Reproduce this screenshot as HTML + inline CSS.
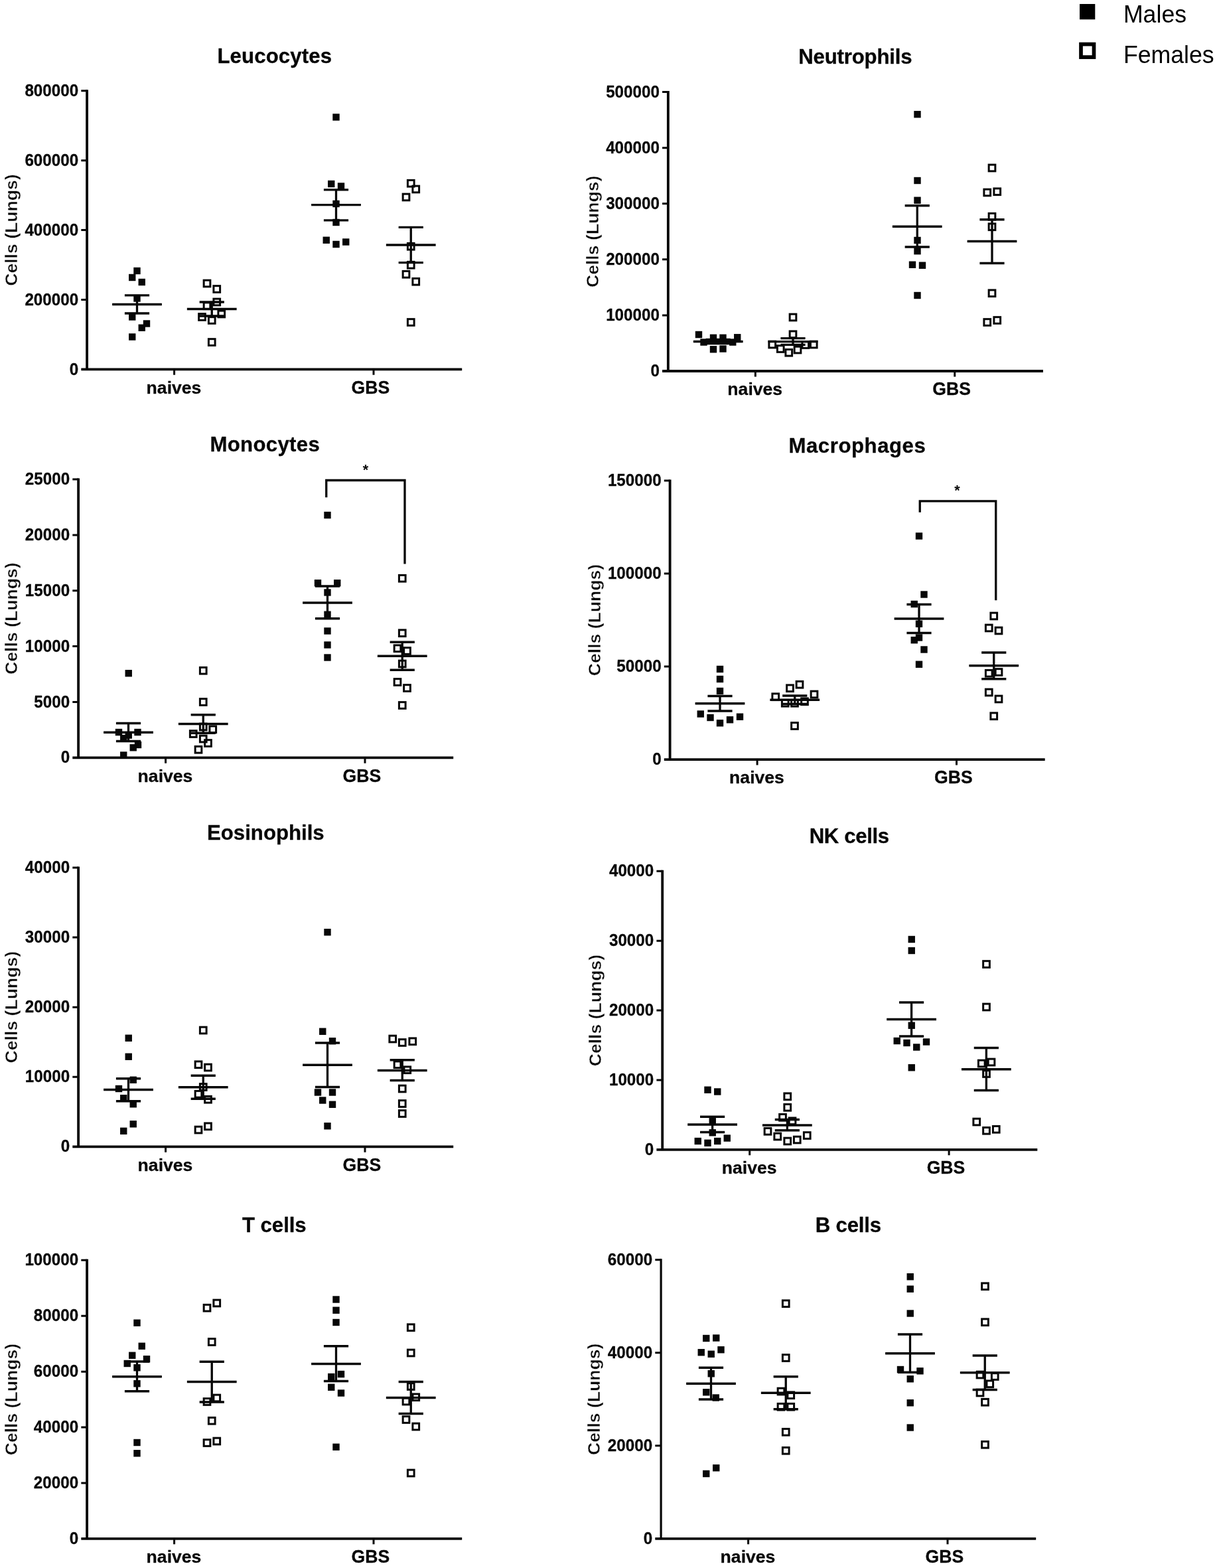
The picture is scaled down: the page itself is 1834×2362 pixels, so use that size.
<!DOCTYPE html>
<html lang="en">
<head>
<meta charset="utf-8">
<title>Lung cell populations in naive and GBS-infected males and females</title>
<style>
html,body{margin:0;padding:0;background:#fff;}
body{width:1834px;height:2362px;}
svg{display:block;}
text{font-family:"Liberation Sans",sans-serif;fill:#070707;}
.b{font-weight:700;}
.tk,.gp,.tt{stroke:#070707;stroke-width:0.3px;stroke-linejoin:round;}
.tk{font-size:24.2px;text-anchor:end;}
.gp{font-size:26.6px;text-anchor:middle;}
.tt{font-size:31.2px;text-anchor:middle;}
.yl{font-size:26.6px;text-anchor:middle;stroke:#fff;stroke-width:0.45px;}
.st{font-size:21.5px;text-anchor:middle;font-weight:700;}
.lg{font-size:35.7px;fill:#000;}
.ln{stroke:#070707;stroke-width:3.85;fill:none;}
.tkm{stroke-width:3;}
.dl{stroke-width:3.3;}
.sf{fill:#070707;}
.so{fill:none;stroke:#070707;stroke-width:3;}
</style>
</head>
<body>
<svg width="1834" height="2362" viewBox="0 0 1834 2362" role="img" aria-label="Lung cell counts in naive and GBS-infected male and female mice">
<rect width="1834" height="2362" fill="#fff"/>
<g id="legend">
<rect x="1627" y="6" width="23.3" height="23.3" fill="#000"/>
<text class="lg" transform="translate(1692.9 34) scale(1 1.03)">Males</text>
<rect x="1629" y="66.6" width="19.5" height="19.5" fill="none" stroke="#000" stroke-width="5.7"/>
<text class="lg" transform="translate(1692.9 94.5) scale(1 1.03)">Females</text>
</g>
<g id="panel1">
<text class="tt b" x="413.81" y="94.6" letter-spacing="0.11">Leucocytes</text>
<text class="yl b" transform="translate(26.4 346.6) rotate(-90)">Cells (Lungs)</text>
<path class="ln" d="M131.1 135.3V556.4"/>
<path class="ln" d="M122.3 556.4H696.2"/>
<path class="ln tkm" d="M122.3 136.8H131.1M122.3 241.7H131.1M122.3 346.6H131.1M122.3 451.5H131.1M262.6 556.4V564.8M563 556.4V564.8"/>
<text class="tk b" transform="translate(118.1 144.9) scale(1 1.06)">800000</text>
<text class="tk b" transform="translate(118.1 249.8) scale(1 1.06)">600000</text>
<text class="tk b" transform="translate(118.1 354.7) scale(1 1.06)">400000</text>
<text class="tk b" transform="translate(118.1 459.6) scale(1 1.06)">200000</text>
<text class="tk b" transform="translate(118.1 564.5) scale(1 1.06)">0</text>
<text class="gp b" transform="translate(262 592.7) scale(1 0.98)">naives</text>
<text class="gp b" transform="translate(558.4 592.7) scale(1 1.04)">GBS</text>
<rect class="sf" x="201.3" y="402.8" width="10.4" height="10.4"/><rect class="sf" x="194.05" y="412.8" width="10.4" height="10.4"/><rect class="sf" x="208.55" y="419.8" width="10.4" height="10.4"/><rect class="sf" x="201.3" y="444.3" width="10.4" height="10.4"/><rect class="sf" x="194.05" y="472.3" width="10.4" height="10.4"/><rect class="sf" x="215.8" y="482.3" width="10.4" height="10.4"/><rect class="sf" x="208.55" y="488.55" width="10.4" height="10.4"/><rect class="sf" x="194.05" y="502.3" width="10.4" height="10.4"/>
<path class="ln dl" d="M169.1 458.5H243.9M187.9 444.9H225.1M187.9 472H225.1M206.5 444.9V472"/>
<rect class="so" x="307.15" y="422.15" width="9.7" height="9.7"/><rect class="so" x="321.9" y="430.65" width="9.7" height="9.7"/><rect class="so" x="321.9" y="450.15" width="9.7" height="9.7"/><rect class="so" x="307.15" y="455.9" width="9.7" height="9.7"/><rect class="so" x="328.9" y="468.15" width="9.7" height="9.7"/><rect class="so" x="299.65" y="472.65" width="9.7" height="9.7"/><rect class="so" x="314.4" y="477.65" width="9.7" height="9.7"/><rect class="so" x="314.4" y="510.65" width="9.7" height="9.7"/>
<path class="ln dl" d="M281.85 465.5H356.65M300.65 455H337.85M300.65 476H337.85M319.25 455V476"/>
<rect class="sf" x="501.3" y="171.3" width="10.4" height="10.4"/><rect class="sf" x="494.05" y="271.8" width="10.4" height="10.4"/><rect class="sf" x="508.8" y="275.3" width="10.4" height="10.4"/><rect class="sf" x="501.3" y="301.8" width="10.4" height="10.4"/><rect class="sf" x="501.3" y="329.8" width="10.4" height="10.4"/><rect class="sf" x="486.55" y="356.55" width="10.4" height="10.4"/><rect class="sf" x="501.3" y="362.8" width="10.4" height="10.4"/><rect class="sf" x="516.05" y="359.3" width="10.4" height="10.4"/>
<path class="ln dl" d="M469.1 308.56H543.9M487.9 285.9H525.1M487.9 331.9H525.1M506.5 285.9V331.9"/>
<rect class="so" x="614.4" y="271.4" width="9.7" height="9.7"/><rect class="so" x="621.9" y="280.15" width="9.7" height="9.7"/><rect class="so" x="607.15" y="292.15" width="9.7" height="9.7"/><rect class="so" x="614.4" y="366.4" width="9.7" height="9.7"/><rect class="so" x="614.4" y="394.4" width="9.7" height="9.7"/><rect class="so" x="607.15" y="408.4" width="9.7" height="9.7"/><rect class="so" x="621.9" y="419.4" width="9.7" height="9.7"/><rect class="so" x="614.4" y="480.65" width="9.7" height="9.7"/>
<path class="ln dl" d="M581.85 369H656.65M600.65 342.4H637.85M600.65 395.6H637.85M619.25 342.4V395.6"/>
</g>
<g id="panel2">
<text class="tt b" x="1288.81" y="96.4" letter-spacing="-0.18">Neutrophils</text>
<text class="yl b" transform="translate(902.15 348.8) rotate(-90)">Cells (Lungs)</text>
<path class="ln" d="M1006.85 137.1V559"/>
<path class="ln" d="M998.05 559H1571.95"/>
<path class="ln tkm" d="M998.05 138.6H1006.85M998.05 222.68H1006.85M998.05 306.76H1006.85M998.05 390.84H1006.85M998.05 474.92H1006.85M1138.35 559V567.4M1438.75 559V567.4"/>
<text class="tk b" transform="translate(993.85 146.7) scale(1 1.06)">500000</text>
<text class="tk b" transform="translate(993.85 230.78) scale(1 1.06)">400000</text>
<text class="tk b" transform="translate(993.85 314.86) scale(1 1.06)">300000</text>
<text class="tk b" transform="translate(993.85 398.94) scale(1 1.06)">200000</text>
<text class="tk b" transform="translate(993.85 483.02) scale(1 1.06)">100000</text>
<text class="tk b" transform="translate(993.85 567.1) scale(1 1.06)">0</text>
<text class="gp b" transform="translate(1137.75 595.3) scale(1 0.98)">naives</text>
<text class="gp b" transform="translate(1434.15 595.3) scale(1 1.04)">GBS</text>
<rect class="sf" x="1047.8" y="498.8" width="10.4" height="10.4"/><rect class="sf" x="1069.8" y="503.55" width="10.4" height="10.4"/><rect class="sf" x="1084.3" y="503.55" width="10.4" height="10.4"/><rect class="sf" x="1106.05" y="503.05" width="10.4" height="10.4"/><rect class="sf" x="1055.3" y="510.3" width="10.4" height="10.4"/><rect class="sf" x="1099.05" y="510.3" width="10.4" height="10.4"/><rect class="sf" x="1069.8" y="521.05" width="10.4" height="10.4"/><rect class="sf" x="1084.3" y="520.3" width="10.4" height="10.4"/>
<path class="ln dl" d="M1044.85 514.5H1119.65M1063.65 511.5H1100.85M1063.65 517.5H1100.85M1082.25 511.5V517.5"/>
<rect class="so" x="1190.15" y="473.15" width="9.7" height="9.7"/><rect class="so" x="1190.15" y="498.9" width="9.7" height="9.7"/><rect class="so" x="1158.9" y="514.15" width="9.7" height="9.7"/><rect class="so" x="1221.4" y="514.15" width="9.7" height="9.7"/><rect class="so" x="1208.9" y="514.65" width="9.7" height="9.7"/><rect class="so" x="1171.4" y="520.65" width="9.7" height="9.7"/><rect class="so" x="1197.15" y="522.15" width="9.7" height="9.7"/><rect class="so" x="1183.9" y="526.4" width="9.7" height="9.7"/>
<path class="ln dl" d="M1157.6 514.6H1232.4M1176.4 509.6H1213.6M1176.4 519.3H1213.6M1195 509.6V519.3"/>
<rect class="sf" x="1377.3" y="167.05" width="10.4" height="10.4"/><rect class="sf" x="1377.3" y="266.8" width="10.4" height="10.4"/><rect class="sf" x="1377.3" y="296.55" width="10.4" height="10.4"/><rect class="sf" x="1377.3" y="356.8" width="10.4" height="10.4"/><rect class="sf" x="1377.3" y="373.05" width="10.4" height="10.4"/><rect class="sf" x="1369.8" y="393.55" width="10.4" height="10.4"/><rect class="sf" x="1384.8" y="394.55" width="10.4" height="10.4"/><rect class="sf" x="1377.3" y="439.8" width="10.4" height="10.4"/>
<path class="ln dl" d="M1344.85 341.25H1419.65M1363.65 309.75H1400.85M1363.65 372H1400.85M1382.25 309.75V372"/>
<rect class="so" x="1490.15" y="248.15" width="9.7" height="9.7"/><rect class="so" x="1482.9" y="285.15" width="9.7" height="9.7"/><rect class="so" x="1497.9" y="283.9" width="9.7" height="9.7"/><rect class="so" x="1490.15" y="321.4" width="9.7" height="9.7"/><rect class="so" x="1490.15" y="336.9" width="9.7" height="9.7"/><rect class="so" x="1490.15" y="436.9" width="9.7" height="9.7"/><rect class="so" x="1482.9" y="480.65" width="9.7" height="9.7"/><rect class="so" x="1497.9" y="477.65" width="9.7" height="9.7"/>
<path class="ln dl" d="M1457.6 363.5H1532.4M1476.4 330.75H1513.6M1476.4 396.5H1513.6M1495 330.75V396.5"/>
</g>
<g id="panel3">
<text class="tt b" x="399.3" y="679.85" letter-spacing="0.3">Monocytes</text>
<text class="yl b" transform="translate(26.1 931.67) rotate(-90)">Cells (Lungs)</text>
<path class="ln" d="M118.1 720.55V1141.3"/>
<path class="ln" d="M109.3 1141.3H683.2"/>
<path class="ln tkm" d="M109.3 722.05H118.1M109.3 805.9H118.1M109.3 889.75H118.1M109.3 973.6H118.1M109.3 1057.45H118.1M249.6 1141.3V1149.7M550 1141.3V1149.7"/>
<text class="tk b" transform="translate(105.1 730.15) scale(1 1.06)">25000</text>
<text class="tk b" transform="translate(105.1 814) scale(1 1.06)">20000</text>
<text class="tk b" transform="translate(105.1 897.85) scale(1 1.06)">15000</text>
<text class="tk b" transform="translate(105.1 981.7) scale(1 1.06)">10000</text>
<text class="tk b" transform="translate(105.1 1065.55) scale(1 1.06)">5000</text>
<text class="tk b" transform="translate(105.1 1149.4) scale(1 1.06)">0</text>
<text class="gp b" transform="translate(249 1177.6) scale(1 0.98)">naives</text>
<text class="gp b" transform="translate(545.4 1177.6) scale(1 1.04)">GBS</text>
<rect class="sf" x="188.55" y="1009.05" width="10.4" height="10.4"/><rect class="sf" x="173.8" y="1097.8" width="10.4" height="10.4"/><rect class="sf" x="202.3" y="1097.8" width="10.4" height="10.4"/><rect class="sf" x="188.55" y="1102.3" width="10.4" height="10.4"/><rect class="sf" x="181.05" y="1106.8" width="10.4" height="10.4"/><rect class="sf" x="202.8" y="1116.8" width="10.4" height="10.4"/><rect class="sf" x="195.55" y="1121.05" width="10.4" height="10.4"/><rect class="sf" x="181.05" y="1132.3" width="10.4" height="10.4"/>
<path class="ln dl" d="M156.1 1103.25H230.9M174.9 1089.5H212.1M174.9 1116.5H212.1M193.5 1089.5V1116.5"/>
<rect class="so" x="301.4" y="1005.4" width="9.7" height="9.7"/><rect class="so" x="301.4" y="1052.65" width="9.7" height="9.7"/><rect class="so" x="301.4" y="1090.15" width="9.7" height="9.7"/><rect class="so" x="315.9" y="1093.9" width="9.7" height="9.7"/><rect class="so" x="286.4" y="1100.65" width="9.7" height="9.7"/><rect class="so" x="301.4" y="1108.15" width="9.7" height="9.7"/><rect class="so" x="308.65" y="1114.65" width="9.7" height="9.7"/><rect class="so" x="294.15" y="1124.4" width="9.7" height="9.7"/>
<path class="ln dl" d="M268.85 1090.5H343.65M287.65 1076.75H324.85M287.65 1104.25H324.85M306.25 1076.75V1104.25"/>
<rect class="sf" x="488.3" y="770.8" width="10.4" height="10.4"/><rect class="sf" x="473.8" y="873.05" width="10.4" height="10.4"/><rect class="sf" x="503.05" y="873.05" width="10.4" height="10.4"/><rect class="sf" x="488.3" y="887.3" width="10.4" height="10.4"/><rect class="sf" x="488.3" y="920.55" width="10.4" height="10.4"/><rect class="sf" x="488.3" y="945.3" width="10.4" height="10.4"/><rect class="sf" x="488.3" y="966.3" width="10.4" height="10.4"/><rect class="sf" x="488.3" y="985.3" width="10.4" height="10.4"/>
<path class="ln dl" d="M456.1 908H530.9M474.9 883H512.1M474.9 931.75H512.1M493.5 883V931.75"/>
<rect class="so" x="601.4" y="866.4" width="9.7" height="9.7"/><rect class="so" x="601.4" y="948.9" width="9.7" height="9.7"/><rect class="so" x="594.15" y="971.9" width="9.7" height="9.7"/><rect class="so" x="608.65" y="975.65" width="9.7" height="9.7"/><rect class="so" x="601.4" y="995.15" width="9.7" height="9.7"/><rect class="so" x="594.15" y="1022.65" width="9.7" height="9.7"/><rect class="so" x="608.65" y="1031.65" width="9.7" height="9.7"/><rect class="so" x="601.4" y="1057.65" width="9.7" height="9.7"/>
<path class="ln dl" d="M568.85 988.25H643.65M587.65 967.25H624.85M587.65 1009.25H624.85M606.25 967.25V1009.25"/>
<path class="ln dl" d="M491.75 749.25V723.5H610V849.5"/>
<text class="st" x="551" y="714.9">*</text>
</g>
<g id="panel4">
<text class="tt b" x="1291.92" y="681.7" letter-spacing="0.53">Macrophages</text>
<text class="yl b" transform="translate(904.9 934) rotate(-90)">Cells (Lungs)</text>
<path class="ln" d="M1009.6 722.4V1144.1"/>
<path class="ln" d="M1000.8 1144.1H1574.7"/>
<path class="ln tkm" d="M1000.8 723.9H1009.6M1000.8 863.97H1009.6M1000.8 1004.03H1009.6M1141.1 1144.1V1152.5M1441.5 1144.1V1152.5"/>
<text class="tk b" transform="translate(996.6 732) scale(1 1.06)">150000</text>
<text class="tk b" transform="translate(996.6 872.07) scale(1 1.06)">100000</text>
<text class="tk b" transform="translate(996.6 1012.13) scale(1 1.06)">50000</text>
<text class="tk b" transform="translate(996.6 1152.2) scale(1 1.06)">0</text>
<text class="gp b" transform="translate(1140.5 1180.4) scale(1 0.98)">naives</text>
<text class="gp b" transform="translate(1436.9 1180.4) scale(1 1.04)">GBS</text>
<rect class="sf" x="1079.8" y="1002.8" width="10.4" height="10.4"/><rect class="sf" x="1079.8" y="1017.8" width="10.4" height="10.4"/><rect class="sf" x="1079.8" y="1035.8" width="10.4" height="10.4"/><rect class="sf" x="1050.55" y="1070.3" width="10.4" height="10.4"/><rect class="sf" x="1109.8" y="1074.55" width="10.4" height="10.4"/><rect class="sf" x="1065.3" y="1075.8" width="10.4" height="10.4"/><rect class="sf" x="1094.8" y="1079.05" width="10.4" height="10.4"/><rect class="sf" x="1079.8" y="1084.05" width="10.4" height="10.4"/>
<path class="ln dl" d="M1047.6 1059.75H1122.4M1066.4 1048.5H1103.6M1066.4 1071H1103.6M1085 1048.5V1071"/>
<rect class="so" x="1200.15" y="1026.4" width="9.7" height="9.7"/><rect class="so" x="1185.65" y="1031.9" width="9.7" height="9.7"/><rect class="so" x="1222.15" y="1041.15" width="9.7" height="9.7"/><rect class="so" x="1163.9" y="1044.9" width="9.7" height="9.7"/><rect class="so" x="1207.65" y="1051.9" width="9.7" height="9.7"/><rect class="so" x="1178.4" y="1054.4" width="9.7" height="9.7"/><rect class="so" x="1192.65" y="1054.4" width="9.7" height="9.7"/><rect class="so" x="1192.65" y="1088.65" width="9.7" height="9.7"/>
<path class="ln dl" d="M1160.35 1054.25H1235.15M1179.15 1048H1216.35M1179.15 1060.5H1216.35M1197.75 1048V1060.5"/>
<rect class="sf" x="1379.8" y="802.3" width="10.4" height="10.4"/><rect class="sf" x="1387.3" y="890.3" width="10.4" height="10.4"/><rect class="sf" x="1372.55" y="904.8" width="10.4" height="10.4"/><rect class="sf" x="1379.8" y="934.55" width="10.4" height="10.4"/><rect class="sf" x="1379.8" y="955.3" width="10.4" height="10.4"/><rect class="sf" x="1372.55" y="959.05" width="10.4" height="10.4"/><rect class="sf" x="1387.3" y="973.3" width="10.4" height="10.4"/><rect class="sf" x="1379.8" y="995.55" width="10.4" height="10.4"/>
<path class="ln dl" d="M1347.6 932H1422.4M1366.4 910.5H1403.6M1366.4 953.5H1403.6M1385 910.5V953.5"/>
<rect class="so" x="1492.9" y="923.15" width="9.7" height="9.7"/><rect class="so" x="1485.4" y="941.15" width="9.7" height="9.7"/><rect class="so" x="1500.15" y="945.15" width="9.7" height="9.7"/><rect class="so" x="1485.4" y="1009.4" width="9.7" height="9.7"/><rect class="so" x="1500.15" y="1007.65" width="9.7" height="9.7"/><rect class="so" x="1485.4" y="1038.15" width="9.7" height="9.7"/><rect class="so" x="1500.15" y="1048.15" width="9.7" height="9.7"/><rect class="so" x="1492.9" y="1073.9" width="9.7" height="9.7"/>
<path class="ln dl" d="M1460.35 1002.75H1535.15M1479.15 983H1516.35M1479.15 1022.75H1516.35M1497.75 983V1022.75"/>
<path class="ln dl" d="M1386.25 771.75V754.9H1500.75V904.25"/>
<text class="st" x="1442.4" y="746">*</text>
</g>
<g id="panel5">
<text class="tt b" x="400.35" y="1264.85">Eosinophils</text>
<text class="yl b" transform="translate(26.1 1517.17) rotate(-90)">Cells (Lungs)</text>
<path class="ln" d="M118.1 1305.55V1727.3"/>
<path class="ln" d="M109.3 1727.3H683.2"/>
<path class="ln tkm" d="M109.3 1307.05H118.1M109.3 1412.11H118.1M109.3 1517.17H118.1M109.3 1622.24H118.1M249.6 1727.3V1735.7M550 1727.3V1735.7"/>
<text class="tk b" transform="translate(105.1 1315.15) scale(1 1.06)">40000</text>
<text class="tk b" transform="translate(105.1 1420.21) scale(1 1.06)">30000</text>
<text class="tk b" transform="translate(105.1 1525.27) scale(1 1.06)">20000</text>
<text class="tk b" transform="translate(105.1 1630.34) scale(1 1.06)">10000</text>
<text class="tk b" transform="translate(105.1 1735.4) scale(1 1.06)">0</text>
<text class="gp b" transform="translate(249 1763.6) scale(1 0.98)">naives</text>
<text class="gp b" transform="translate(545.4 1763.6) scale(1 1.04)">GBS</text>
<rect class="sf" x="188.55" y="1558.55" width="10.4" height="10.4"/><rect class="sf" x="188.55" y="1586.55" width="10.4" height="10.4"/><rect class="sf" x="195.55" y="1621.55" width="10.4" height="10.4"/><rect class="sf" x="173.8" y="1634.8" width="10.4" height="10.4"/><rect class="sf" x="181.05" y="1649.05" width="10.4" height="10.4"/><rect class="sf" x="195.55" y="1658.05" width="10.4" height="10.4"/><rect class="sf" x="195.55" y="1688.05" width="10.4" height="10.4"/><rect class="sf" x="181.05" y="1698.55" width="10.4" height="10.4"/>
<path class="ln dl" d="M156.1 1641.5H230.9M174.9 1624.75H212.1M174.9 1658.75H212.1M193.5 1624.75V1658.75"/>
<rect class="so" x="301.4" y="1547.15" width="9.7" height="9.7"/><rect class="so" x="294.15" y="1598.9" width="9.7" height="9.7"/><rect class="so" x="308.65" y="1603.15" width="9.7" height="9.7"/><rect class="so" x="301.4" y="1632.65" width="9.7" height="9.7"/><rect class="so" x="294.15" y="1643.4" width="9.7" height="9.7"/><rect class="so" x="308.65" y="1651.4" width="9.7" height="9.7"/><rect class="so" x="308.65" y="1691.9" width="9.7" height="9.7"/><rect class="so" x="294.15" y="1697.15" width="9.7" height="9.7"/>
<path class="ln dl" d="M268.85 1637.75H343.65M287.65 1620.25H324.85M287.65 1655.25H324.85M306.25 1620.25V1655.25"/>
<rect class="sf" x="488.3" y="1399.05" width="10.4" height="10.4"/><rect class="sf" x="481.05" y="1548.55" width="10.4" height="10.4"/><rect class="sf" x="495.8" y="1563.05" width="10.4" height="10.4"/><rect class="sf" x="473.8" y="1640.3" width="10.4" height="10.4"/><rect class="sf" x="495.8" y="1640.3" width="10.4" height="10.4"/><rect class="sf" x="481.05" y="1652.3" width="10.4" height="10.4"/><rect class="sf" x="495.8" y="1658.55" width="10.4" height="10.4"/><rect class="sf" x="488.3" y="1691.05" width="10.4" height="10.4"/>
<path class="ln dl" d="M456.1 1604.25H530.9M474.9 1571H512.1M474.9 1637.5H512.1M493.5 1571V1637.5"/>
<rect class="so" x="586.9" y="1560.15" width="9.7" height="9.7"/><rect class="so" x="601.4" y="1565.65" width="9.7" height="9.7"/><rect class="so" x="616.9" y="1563.9" width="9.7" height="9.7"/><rect class="so" x="594.15" y="1598.9" width="9.7" height="9.7"/><rect class="so" x="608.9" y="1606.9" width="9.7" height="9.7"/><rect class="so" x="601.4" y="1635.15" width="9.7" height="9.7"/><rect class="so" x="601.4" y="1657.65" width="9.7" height="9.7"/><rect class="so" x="601.4" y="1672.65" width="9.7" height="9.7"/>
<path class="ln dl" d="M568.85 1612.5H643.65M587.65 1596.75H624.85M587.65 1627.5H624.85M606.25 1596.75V1627.5"/>
</g>
<g id="panel6">
<text class="tt b" x="1279.77" y="1270.05" letter-spacing="-0.37">NK cells</text>
<text class="yl b" transform="translate(906.2 1522.05) rotate(-90)">Cells (Lungs)</text>
<path class="ln" d="M998.2 1310.75V1731.85"/>
<path class="ln" d="M989.4 1731.85H1563.3"/>
<path class="ln tkm" d="M989.4 1312.25H998.2M989.4 1417.15H998.2M989.4 1522.05H998.2M989.4 1626.95H998.2M1129.7 1731.85V1740.25M1430.1 1731.85V1740.25"/>
<text class="tk b" transform="translate(985.2 1320.35) scale(1 1.06)">40000</text>
<text class="tk b" transform="translate(985.2 1425.25) scale(1 1.06)">30000</text>
<text class="tk b" transform="translate(985.2 1530.15) scale(1 1.06)">20000</text>
<text class="tk b" transform="translate(985.2 1635.05) scale(1 1.06)">10000</text>
<text class="tk b" transform="translate(985.2 1739.95) scale(1 1.06)">0</text>
<text class="gp b" transform="translate(1129.1 1768.15) scale(1 0.98)">naives</text>
<text class="gp b" transform="translate(1425.5 1768.15) scale(1 1.04)">GBS</text>
<rect class="sf" x="1061.3" y="1636.55" width="10.4" height="10.4"/><rect class="sf" x="1076.05" y="1639.3" width="10.4" height="10.4"/><rect class="sf" x="1068.55" y="1684.05" width="10.4" height="10.4"/><rect class="sf" x="1068.55" y="1701.05" width="10.4" height="10.4"/><rect class="sf" x="1090.55" y="1709.3" width="10.4" height="10.4"/><rect class="sf" x="1046.55" y="1713.8" width="10.4" height="10.4"/><rect class="sf" x="1076.05" y="1713.8" width="10.4" height="10.4"/><rect class="sf" x="1061.3" y="1716.55" width="10.4" height="10.4"/>
<path class="ln dl" d="M1036.2 1694H1111M1055 1682.25H1092.2M1055 1705.5H1092.2M1073.6 1682.25V1705.5"/>
<rect class="so" x="1181.9" y="1646.9" width="9.7" height="9.7"/><rect class="so" x="1181.9" y="1663.4" width="9.7" height="9.7"/><rect class="so" x="1174.65" y="1678.4" width="9.7" height="9.7"/><rect class="so" x="1189.15" y="1683.9" width="9.7" height="9.7"/><rect class="so" x="1152.15" y="1699.4" width="9.7" height="9.7"/><rect class="so" x="1211.4" y="1705.65" width="9.7" height="9.7"/><rect class="so" x="1166.9" y="1707.15" width="9.7" height="9.7"/><rect class="so" x="1196.4" y="1712.15" width="9.7" height="9.7"/><rect class="so" x="1181.9" y="1714.15" width="9.7" height="9.7"/>
<path class="ln dl" d="M1148.95 1695H1223.75M1167.75 1686.5H1204.95M1167.75 1702.75H1204.95M1186.35 1686.5V1702.75"/>
<rect class="sf" x="1368.55" y="1409.8" width="10.4" height="10.4"/><rect class="sf" x="1368.55" y="1426.8" width="10.4" height="10.4"/><rect class="sf" x="1368.55" y="1539.55" width="10.4" height="10.4"/><rect class="sf" x="1346.55" y="1562.8" width="10.4" height="10.4"/><rect class="sf" x="1361.3" y="1565.8" width="10.4" height="10.4"/><rect class="sf" x="1390.8" y="1564.3" width="10.4" height="10.4"/><rect class="sf" x="1376.05" y="1572.3" width="10.4" height="10.4"/><rect class="sf" x="1368.55" y="1603.05" width="10.4" height="10.4"/>
<path class="ln dl" d="M1336.2 1535.5H1411M1355 1510H1392.2M1355 1561H1392.2M1373.6 1510V1561"/>
<rect class="so" x="1481.65" y="1447.65" width="9.7" height="9.7"/><rect class="so" x="1481.65" y="1512.15" width="9.7" height="9.7"/><rect class="so" x="1474.4" y="1597.15" width="9.7" height="9.7"/><rect class="so" x="1489.15" y="1595.15" width="9.7" height="9.7"/><rect class="so" x="1481.65" y="1612.65" width="9.7" height="9.7"/><rect class="so" x="1466.9" y="1685.15" width="9.7" height="9.7"/><rect class="so" x="1481.65" y="1698.4" width="9.7" height="9.7"/><rect class="so" x="1496.4" y="1696.4" width="9.7" height="9.7"/>
<path class="ln dl" d="M1448.95 1610.75H1523.75M1467.75 1578.5H1504.95M1467.75 1642.5H1504.95M1486.35 1578.5V1642.5"/>
</g>
<g id="panel7">
<text class="tt b" x="413.31" y="1856.15" letter-spacing="-0.07">T cells</text>
<text class="yl b" transform="translate(26.4 2108.07) rotate(-90)">Cells (Lungs)</text>
<path class="ln" d="M131.1 1896.85V2317.8"/>
<path class="ln" d="M122.3 2317.8H696.2"/>
<path class="ln tkm" d="M122.3 1898.35H131.1M122.3 1982.24H131.1M122.3 2066.13H131.1M122.3 2150.02H131.1M122.3 2233.91H131.1M262.6 2317.8V2326.2M563 2317.8V2326.2"/>
<text class="tk b" transform="translate(118.1 1906.45) scale(1 1.06)">100000</text>
<text class="tk b" transform="translate(118.1 1990.34) scale(1 1.06)">80000</text>
<text class="tk b" transform="translate(118.1 2074.23) scale(1 1.06)">60000</text>
<text class="tk b" transform="translate(118.1 2158.12) scale(1 1.06)">40000</text>
<text class="tk b" transform="translate(118.1 2242.01) scale(1 1.06)">20000</text>
<text class="tk b" transform="translate(118.1 2325.9) scale(1 1.06)">0</text>
<text class="gp b" transform="translate(262 2354.1) scale(1 0.98)">naives</text>
<text class="gp b" transform="translate(558.4 2354.1) scale(1 1.04)">GBS</text>
<rect class="sf" x="201.3" y="1987.55" width="10.4" height="10.4"/><rect class="sf" x="208.55" y="2022.55" width="10.4" height="10.4"/><rect class="sf" x="194.05" y="2036.55" width="10.4" height="10.4"/><rect class="sf" x="215.8" y="2042.05" width="10.4" height="10.4"/><rect class="sf" x="186.55" y="2048.8" width="10.4" height="10.4"/><rect class="sf" x="201.3" y="2055.05" width="10.4" height="10.4"/><rect class="sf" x="201.3" y="2079.05" width="10.4" height="10.4"/><rect class="sf" x="201.3" y="2167.8" width="10.4" height="10.4"/><rect class="sf" x="201.3" y="2184.05" width="10.4" height="10.4"/>
<path class="ln dl" d="M169.1 2073.75H243.9M187.9 2051H225.1M187.9 2095.75H225.1M206.5 2051V2095.75"/>
<rect class="so" x="321.9" y="1958.15" width="9.7" height="9.7"/><rect class="so" x="307.15" y="1965.4" width="9.7" height="9.7"/><rect class="so" x="314.4" y="2016.65" width="9.7" height="9.7"/><rect class="so" x="321.9" y="2101.15" width="9.7" height="9.7"/><rect class="so" x="307.15" y="2106.65" width="9.7" height="9.7"/><rect class="so" x="314.4" y="2135.4" width="9.7" height="9.7"/><rect class="so" x="321.9" y="2166.15" width="9.7" height="9.7"/><rect class="so" x="307.15" y="2168.65" width="9.7" height="9.7"/>
<path class="ln dl" d="M281.85 2081.5H356.65M300.65 2051.25H337.85M300.65 2112H337.85M319.25 2051.25V2112"/>
<rect class="sf" x="501.3" y="1952.3" width="10.4" height="10.4"/><rect class="sf" x="501.3" y="1968.55" width="10.4" height="10.4"/><rect class="sf" x="501.3" y="1986.8" width="10.4" height="10.4"/><rect class="sf" x="508.8" y="2064.8" width="10.4" height="10.4"/><rect class="sf" x="494.05" y="2068.8" width="10.4" height="10.4"/><rect class="sf" x="494.05" y="2084.55" width="10.4" height="10.4"/><rect class="sf" x="508.8" y="2093.3" width="10.4" height="10.4"/><rect class="sf" x="501.3" y="2174.55" width="10.4" height="10.4"/>
<path class="ln dl" d="M469.1 2054.5H543.9M487.9 2027.75H525.1M487.9 2080.5H525.1M506.5 2027.75V2080.5"/>
<rect class="so" x="614.4" y="1994.9" width="9.7" height="9.7"/><rect class="so" x="614.4" y="2033.15" width="9.7" height="9.7"/><rect class="so" x="614.4" y="2083.65" width="9.7" height="9.7"/><rect class="so" x="621.9" y="2099.9" width="9.7" height="9.7"/><rect class="so" x="607.15" y="2106.15" width="9.7" height="9.7"/><rect class="so" x="607.15" y="2133.65" width="9.7" height="9.7"/><rect class="so" x="621.9" y="2144.15" width="9.7" height="9.7"/><rect class="so" x="614.4" y="2214.15" width="9.7" height="9.7"/>
<path class="ln dl" d="M581.85 2105.5H656.65M600.65 2081.5H637.85M600.65 2129.5H637.85M619.25 2081.5V2129.5"/>
</g>
<g id="panel8">
<text class="tt b" x="1278.35" y="1855.55" letter-spacing="-0.2">B cells</text>
<text class="yl b" transform="translate(904.1 2107.78) rotate(-90)">Cells (Lungs)</text>
<path class="ln" style="stroke-width:3.2" d="M996.1 1896.25V2317.8"/>
<path class="ln" d="M987.3 2317.8H1561.2"/>
<path class="ln tkm" d="M987.3 1897.75H996.1M987.3 2037.77H996.1M987.3 2177.78H996.1M1127.6 2317.8V2326.2M1428 2317.8V2326.2"/>
<text class="tk b" transform="translate(983.1 1905.85) scale(1 1.06)">60000</text>
<text class="tk b" transform="translate(983.1 2045.87) scale(1 1.06)">40000</text>
<text class="tk b" transform="translate(983.1 2185.88) scale(1 1.06)">20000</text>
<text class="tk b" transform="translate(983.1 2325.9) scale(1 1.06)">0</text>
<text class="gp b" transform="translate(1127 2354.1) scale(1 0.98)">naives</text>
<text class="gp b" transform="translate(1423.4 2354.1) scale(1 1.04)">GBS</text>
<rect class="sf" x="1059.05" y="2010.8" width="10.4" height="10.4"/><rect class="sf" x="1074.05" y="2010.3" width="10.4" height="10.4"/><rect class="sf" x="1081.3" y="2028.05" width="10.4" height="10.4"/><rect class="sf" x="1051.55" y="2032.05" width="10.4" height="10.4"/><rect class="sf" x="1066.55" y="2034.55" width="10.4" height="10.4"/><rect class="sf" x="1066.55" y="2064.05" width="10.4" height="10.4"/><rect class="sf" x="1059.05" y="2092.05" width="10.4" height="10.4"/><rect class="sf" x="1073.55" y="2100.3" width="10.4" height="10.4"/><rect class="sf" x="1074.05" y="2206.05" width="10.4" height="10.4"/><rect class="sf" x="1059.05" y="2214.8" width="10.4" height="10.4"/>
<path class="ln dl" d="M1034.1 2084.25H1108.9M1052.9 2060.25H1090.1M1052.9 2108H1090.1M1071.5 2060.25V2108"/>
<rect class="so" x="1179.4" y="1958.9" width="9.7" height="9.7"/><rect class="so" x="1179.4" y="2040.65" width="9.7" height="9.7"/><rect class="so" x="1172.15" y="2091.15" width="9.7" height="9.7"/><rect class="so" x="1186.9" y="2096.9" width="9.7" height="9.7"/><rect class="so" x="1172.15" y="2114.4" width="9.7" height="9.7"/><rect class="so" x="1186.9" y="2114.4" width="9.7" height="9.7"/><rect class="so" x="1179.4" y="2152.4" width="9.7" height="9.7"/><rect class="so" x="1179.4" y="2180.4" width="9.7" height="9.7"/>
<path class="ln dl" d="M1146.85 2098.25H1221.65M1165.65 2073.75H1202.85M1165.65 2122.75H1202.85M1184.25 2073.75V2122.75"/>
<rect class="sf" x="1366.55" y="1918.05" width="10.4" height="10.4"/><rect class="sf" x="1366.55" y="1936.55" width="10.4" height="10.4"/><rect class="sf" x="1366.55" y="1973.3" width="10.4" height="10.4"/><rect class="sf" x="1351.8" y="2057.8" width="10.4" height="10.4"/><rect class="sf" x="1381.3" y="2060.05" width="10.4" height="10.4"/><rect class="sf" x="1366.55" y="2072.05" width="10.4" height="10.4"/><rect class="sf" x="1366.55" y="2108.05" width="10.4" height="10.4"/><rect class="sf" x="1366.55" y="2145.3" width="10.4" height="10.4"/>
<path class="ln dl" d="M1334.1 2038.75H1408.9M1352.9 2010H1390.1M1352.9 2067.25H1390.1M1371.5 2010V2067.25"/>
<rect class="so" x="1479.65" y="1932.9" width="9.7" height="9.7"/><rect class="so" x="1479.65" y="1986.9" width="9.7" height="9.7"/><rect class="so" x="1472.15" y="2066.15" width="9.7" height="9.7"/><rect class="so" x="1494.4" y="2068.65" width="9.7" height="9.7"/><rect class="so" x="1486.9" y="2079.9" width="9.7" height="9.7"/><rect class="so" x="1472.15" y="2093.15" width="9.7" height="9.7"/><rect class="so" x="1479.65" y="2107.4" width="9.7" height="9.7"/><rect class="so" x="1479.65" y="2171.4" width="9.7" height="9.7"/>
<path class="ln dl" d="M1446.85 2067.75H1521.65M1465.65 2042H1502.85M1465.65 2093.5H1502.85M1484.25 2042V2093.5"/>
</g>
</svg>
</body>
</html>
